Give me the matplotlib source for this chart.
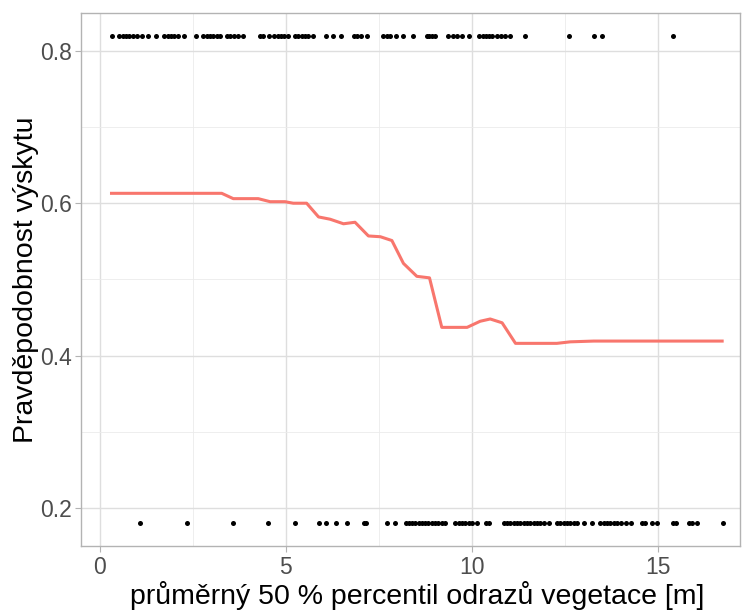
import matplotlib.pyplot as plt
import numpy as np

# body rugu - výskyt (nahoře) a absence (dole)
x_vyskyt = [0.32, 0.53, 0.62, 0.71, 0.80, 0.90, 1.01, 1.13, 1.29, 1.51, 1.74, 1.83, 1.92,
            2.01, 2.10, 2.27, 2.59, 2.79, 2.88, 2.97, 3.05, 3.15, 3.23, 3.41, 3.50, 3.62,
            3.73, 3.84, 4.31, 4.38, 4.56, 4.69, 4.78, 4.87, 4.96, 5.05, 5.25, 5.34, 5.43,
            5.52, 5.61, 5.73, 6.08, 6.26, 6.49, 6.84, 6.92, 7.02, 7.19, 7.62, 7.72, 7.80,
            7.97, 8.15, 8.43, 8.79, 8.86, 8.92, 9.00, 9.37, 9.48, 9.60, 9.73, 9.93, 10.20,
            10.29, 10.38, 10.47, 10.55, 10.67, 10.79, 10.90, 11.03, 11.43, 12.62, 13.27,
            13.48, 15.39]
x_absence = [1.08, 2.36, 3.57, 4.51, 5.25, 5.90, 6.08, 6.34, 6.64, 7.09, 7.15, 7.73, 7.94,
             8.22, 8.30, 8.39, 8.48, 8.57, 8.66, 8.74, 8.83, 8.92, 9.01, 9.10, 9.19, 9.28,
             9.55, 9.64, 9.73, 9.82, 9.91, 10.00, 10.13, 10.38, 10.47, 10.85, 10.94, 11.03,
             11.12, 11.21, 11.30, 11.39, 11.48, 11.56, 11.66, 11.75, 11.84, 11.93, 12.06,
             12.29, 12.37, 12.46, 12.55, 12.64, 12.73, 12.82, 13.00, 13.23, 13.45, 13.54,
             13.63, 13.72, 13.81, 13.90, 13.99, 14.15, 14.26, 14.57, 14.66, 14.84, 14.97,
             15.40, 15.49, 15.82, 15.91, 16.05, 16.75]
y_vyskyt = 0.82
y_absence = 0.18

# křivka parciální závislosti
krivka_x = [0.32, 3.28, 3.59, 4.26, 4.58, 4.98, 5.20, 5.56, 5.88, 6.19, 6.55, 6.86, 7.22,
            7.54, 7.85, 8.16, 8.52, 8.86, 9.19, 9.87, 10.22, 10.49, 10.81, 11.17, 12.28,
            12.64, 13.27, 16.72]
krivka_y = [0.613, 0.613, 0.606, 0.606, 0.602, 0.602, 0.600, 0.600, 0.582, 0.579, 0.573,
            0.575, 0.557, 0.556, 0.551, 0.521, 0.504, 0.502, 0.437, 0.437, 0.445, 0.448,
            0.443, 0.416, 0.416, 0.418, 0.419, 0.419]

plt.rcParams['font.family'] = ['Liberation Sans', 'DejaVu Sans']

fig = plt.figure(figsize=(7.43, 6.10), dpi=100)
ax = fig.add_axes([0.109, 0.105, 0.887, 0.874])

ax.scatter(x_vyskyt, [y_vyskyt] * len(x_vyskyt), s=13, color='black', zorder=3, linewidths=0)
ax.scatter(x_absence, [y_absence] * len(x_absence), s=13, color='black', zorder=3, linewidths=0)
ax.plot(krivka_x, krivka_y, color='#F8766D', lw=2.2, zorder=2)

ax.set_xlim(-0.5, 17.2)
ax.set_ylim(0.15, 0.85)
ax.set_xticks([0, 5, 10, 15])
ax.set_yticks([0.2, 0.4, 0.6, 0.8])
ax.set_xticks(np.arange(2.5, 17, 5), minor=True)
ax.set_yticks([0.3, 0.5, 0.7], minor=True)

ax.grid(which='major', color='#DEDEDE', lw=1.0)
ax.grid(which='minor', color='#EBEBEB', lw=0.6)
ax.set_axisbelow(True)
for s in ax.spines.values():
    s.set_color('#B3B3B3')
    s.set_linewidth(1.0)

ax.tick_params(which='major', colors='#B3B3B3', labelcolor='#4D4D4D', labelsize=16.5, length=4)
ax.tick_params(axis='y', pad=2.5)
ax.tick_params(which='minor', length=0)

ax.set_xlabel('průměrný 50 % percentil odrazů vegetace [m]', fontsize=20.5, labelpad=2)
ax.set_ylabel('Pravděpodobnost výskytu', fontsize=20.5, labelpad=0.5)
ax.xaxis.set_label_coords(0.51, -0.065)

fig.savefig('out.png', dpi=100)
